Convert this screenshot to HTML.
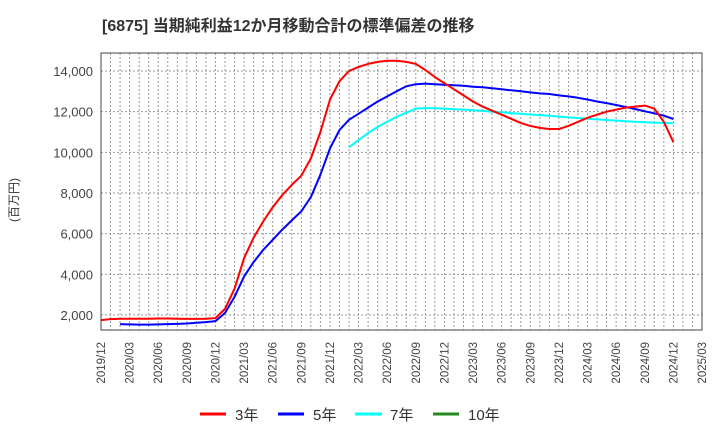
<!DOCTYPE html>
<html><head><meta charset="utf-8"><style>
body{margin:0;background:#fff;}
svg text{font-family:"Liberation Sans","Noto Sans CJK JP",sans-serif;}
</style></head><body>
<svg id="chart" width="720" height="440" xmlns="http://www.w3.org/2000/svg">
<rect width="720" height="440" fill="#fff"/>
<text x="102" y="31" font-size="16" font-weight="bold" fill="#333">[6875]  当期純利益12か月移動合計の標準偏差の推移</text>
<g id="grid"></g>
<g id="yticks"></g>
<g id="xticks"></g>
<g id="series"></g>
<rect x="101" y="53" width="601" height="277" fill="none" stroke="#444" stroke-width="1"/>
<text transform="translate(18,200) rotate(-90)" text-anchor="middle" font-size="12" fill="#333">(百万円)</text>
<g>
 <g><line x1="200" y1="414" x2="226" y2="414" stroke="#f00" stroke-width="3"/><text x="235" y="420" font-size="15" fill="#333">3年</text></g>
 <g><line x1="278" y1="414" x2="304" y2="414" stroke="#00f" stroke-width="3"/><text x="313" y="420" font-size="15" fill="#333">5年</text></g>
 <g><line x1="355" y1="414" x2="382" y2="414" stroke="#0ff" stroke-width="3"/><text x="390" y="420" font-size="15" fill="#333">7年</text></g>
 <g><line x1="433" y1="414" x2="459" y2="414" stroke="#228b22" stroke-width="3"/><text x="468" y="420" font-size="15" fill="#333">10年</text></g>
</g>
</svg>
<script>
const yTicks=[2000,4000,6000,8000,10000,12000,14000];
const xTickLabels=["2019/12","2020/03","2020/06","2020/09","2020/12","2021/03","2021/06","2021/09","2021/12","2022/03","2022/06","2022/09","2022/12","2023/03","2023/06","2023/09","2023/12","2024/03","2024/06","2024/09","2024/12","2025/03"];
// month index 0 = 2019/12
const s3Start=0;
const s3=[1750,1800,1820,1820,1820,1820,1830,1830,1820,1810,1810,1820,1850,2300,3300,4800,5800,6600,7300,7900,8400,8850,9700,11000,12600,13500,14000,14200,14350,14450,14500,14500,14450,14350,14050,13700,13400,13100,12800,12500,12250,12050,11850,11650,11450,11300,11200,11150,11150,11300,11500,11700,11850,12000,12100,12200,12250,12300,12150,11500,10500];
const s5Start=2;
const s5=[1550,1540,1530,1530,1540,1550,1560,1580,1620,1650,1700,2100,2900,3900,4600,5200,5700,6200,6650,7100,7800,8900,10200,11100,11600,11900,12200,12500,12750,13000,13250,13350,13380,13350,13320,13300,13270,13230,13200,13150,13100,13050,13000,12950,12900,12870,12800,12750,12680,12600,12500,12420,12330,12230,12130,12020,11920,11800,11640];
const s7Start=26;
const s7=[10250,10600,10950,11250,11500,11750,11950,12150,12180,12170,12150,12120,12100,12070,12040,12000,11970,11930,11900,11860,11830,11800,11760,11720,11690,11650,11620,11590,11560,11530,11500,11480,11460,11450,11430];

const L=101,R=702,T=53,B=330,NM=63;
const xS=m=>L+(R-L)*m/NM;
const yS=v=>315-(v-2000)*(244/12000);
const NS="http://www.w3.org/2000/svg";
function mk(tag,attrs,parent){const e=document.createElementNS(NS,tag);for(const k in attrs)e.setAttribute(k,attrs[k]);parent.appendChild(e);return e;}
const grid=document.getElementById('grid');
for(let m=1;m<NM;m++){
 const l=mk('line',{x1:xS(m),x2:xS(m),y1:T,y2:B,stroke:'#999','stroke-width':1,'stroke-dasharray':'2,2'},grid);
 
 
}
const yt=document.getElementById('yticks');
yTicks.forEach(v=>{
 const l=mk('line',{x1:L,x2:R,y1:yS(v),y2:yS(v),stroke:'#999','stroke-width':1,'stroke-dasharray':'2,2'},grid);
 
 
 const t=mk('text',{x:93,y:yS(v)+5,'text-anchor':'end','font-size':13,fill:'#444'},yt);
 t.textContent=v.toLocaleString('en-US');
 
 
});
const xt=document.getElementById('xticks');
xTickLabels.forEach((s,i)=>{
 const x=xS(i*3);
 const t=mk('text',{transform:`translate(${x+4},${342}) rotate(-90)`,'text-anchor':'end','font-size':11.5,fill:'#444'},xt);
 t.textContent=s;
 
 
});
const sg=document.getElementById('series');
function draw(arr,start,color,name){
 const pts=arr.map((v,i)=>xS(start+i).toFixed(1)+','+yS(v).toFixed(1)).join(' ');
 const p=mk('polyline',{points:pts,fill:'none',stroke:color,'stroke-width':2,'stroke-linejoin':'round'},sg);
 
 
}
draw(s7,s7Start,'#0ff','series-7y');
draw(s5,s5Start,'#00f','series-5y');
draw(s3,s3Start,'#f00','series-3y');
</script>
</body></html>
